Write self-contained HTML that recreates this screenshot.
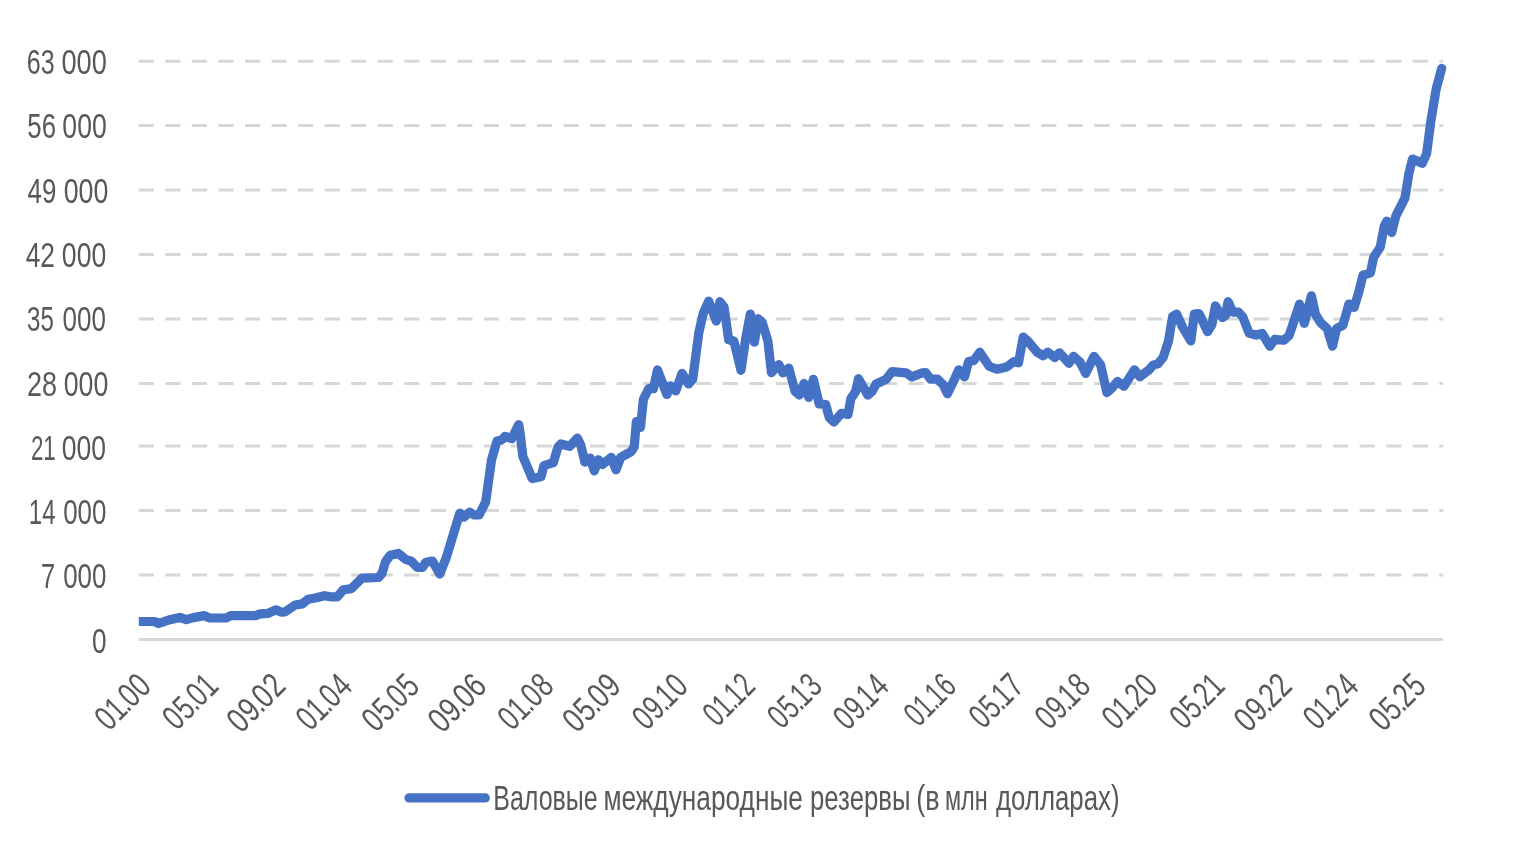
<!DOCTYPE html>
<html lang="ru">
<head>
<meta charset="utf-8">
<title>Валовые международные резервы</title>
<style>
html,body{margin:0;padding:0;background:#fff;}
svg{display:block;}
text{font-family:"Liberation Sans",sans-serif;fill:#595959;}
</style>
</head>
<body>
<svg width="1515" height="853" viewBox="0 0 1515 853">
<rect x="0" y="0" width="1515" height="853" fill="#ffffff"/>
<filter id="soft" x="0" y="0" width="1515" height="853" filterUnits="userSpaceOnUse"><feGaussianBlur stdDeviation="0.45"/></filter>
<g filter="url(#soft)">
<g stroke="#d7d7d7" stroke-width="3" stroke-dasharray="15.2 11.34" fill="none">
<line x1="138.8" y1="575.00" x2="1443.2" y2="575.00"/>
<line x1="138.8" y1="510.40" x2="1443.2" y2="510.40"/>
<line x1="138.8" y1="446.10" x2="1443.2" y2="446.10"/>
<line x1="138.8" y1="383.50" x2="1443.2" y2="383.50"/>
<line x1="138.8" y1="319.00" x2="1443.2" y2="319.00"/>
<line x1="138.8" y1="254.50" x2="1443.2" y2="254.50"/>
<line x1="138.8" y1="190.00" x2="1443.2" y2="190.00"/>
<line x1="138.8" y1="125.60" x2="1443.2" y2="125.60"/>
<line x1="138.8" y1="61.30" x2="1443.2" y2="61.30"/>
</g>
<line x1="138.8" y1="639.50" x2="1443.2" y2="639.50" stroke="#d7d7d7" stroke-width="3.2"/>
<g font-size="35.0">
<text y="652.60"><tspan x="91.98" textLength="14.54" lengthAdjust="spacingAndGlyphs">0</tspan></text>
<text y="588.33"><tspan x="40.89" textLength="14.19" lengthAdjust="spacingAndGlyphs">7</tspan> <tspan x="63.19" textLength="43.22" lengthAdjust="spacingAndGlyphs">000</tspan></text>
<text y="524.06"><tspan x="28.77" textLength="26.74" lengthAdjust="spacingAndGlyphs">14</tspan> <tspan x="63.19" textLength="43.22" lengthAdjust="spacingAndGlyphs">000</tspan></text>
<text y="459.79"><tspan x="30.88" textLength="24.81" lengthAdjust="spacingAndGlyphs">21</tspan> <tspan x="61.86" textLength="44.27" lengthAdjust="spacingAndGlyphs">000</tspan></text>
<text y="395.52"><tspan x="27.04" textLength="30.03" lengthAdjust="spacingAndGlyphs">28</tspan> <tspan x="63.66" textLength="44.59" lengthAdjust="spacingAndGlyphs">000</tspan></text>
<text y="331.25"><tspan x="27.08" textLength="26.83" lengthAdjust="spacingAndGlyphs">35</tspan> <tspan x="62.58" textLength="43.43" lengthAdjust="spacingAndGlyphs">000</tspan></text>
<text y="266.98"><tspan x="25.69" textLength="29.33" lengthAdjust="spacingAndGlyphs">42</tspan> <tspan x="61.86" textLength="44.38" lengthAdjust="spacingAndGlyphs">000</tspan></text>
<text y="202.71"><tspan x="27.61" textLength="28.82" lengthAdjust="spacingAndGlyphs">49</tspan> <tspan x="63.66" textLength="44.59" lengthAdjust="spacingAndGlyphs">000</tspan></text>
<text y="138.44"><tspan x="27.37" textLength="28.66" lengthAdjust="spacingAndGlyphs">56</tspan> <tspan x="62.36" textLength="44.38" lengthAdjust="spacingAndGlyphs">000</tspan></text>
<text y="74.17"><tspan x="26.73" textLength="27.87" lengthAdjust="spacingAndGlyphs">63</tspan> <tspan x="61.44" textLength="45.32" lengthAdjust="spacingAndGlyphs">000</tspan></text>
</g>
<g font-size="35.0">
<text transform="translate(153.0 688.0) rotate(-45) scale(0.733 1)" x="-84.72 -65.60 -48.18 -40.15 -19.74" y="0">01.00</text>
<text transform="translate(220.1 688.0) rotate(-45) scale(0.724 1)" x="-84.76 -64.33 -46.63 -38.57 -19.41" y="0">05.01</text>
<text transform="translate(287.2 688.0) rotate(-45) scale(0.775 1)" x="-84.21 -64.27 -46.95 -39.08 -19.25" y="0">09.02</text>
<text transform="translate(354.3 688.0) rotate(-45) scale(0.726 1)" x="-85.76 -66.61 -49.16 -41.10 -20.09" y="0">01.04</text>
<text transform="translate(421.4 688.0) rotate(-45) scale(0.750 1)" x="-85.75 -65.45 -47.85 -39.89 -19.60" y="0">05.05</text>
<text transform="translate(488.5 688.0) rotate(-45) scale(0.777 1)" x="-84.38 -64.45 -47.13 -39.27 -19.47" y="0">09.06</text>
<text transform="translate(555.6 688.0) rotate(-45) scale(0.731 1)" x="-84.46 -65.33 -47.90 -39.86 -19.59" y="0">01.08</text>
<text transform="translate(622.7 688.0) rotate(-45) scale(0.763 1)" x="-85.07 -64.84 -47.29 -39.37 -19.38" y="0">05.09</text>
<text transform="translate(689.8 688.0) rotate(-45) scale(0.729 1)" x="-84.24 -64.07 -46.58 -39.84 -19.74" y="0">09.10</text>
<text transform="translate(756.9 688.0) rotate(-45) scale(0.672 1)" x="-83.62 -64.17 -46.49 -39.50 -19.49" y="0">01.12</text>
<text transform="translate(824.0 688.0) rotate(-45) scale(0.704 1)" x="-85.05 -64.52 -46.74 -39.89 -19.63" y="0">05.13</text>
<text transform="translate(891.1 688.0) rotate(-45) scale(0.722 1)" x="-85.28 -65.08 -47.56 -40.79 -20.10" y="0">09.14</text>
<text transform="translate(958.2 688.0) rotate(-45) scale(0.675 1)" x="-83.77 -64.33 -46.66 -39.69 -19.71" y="0">01.16</text>
<text transform="translate(1025.3 688.0) rotate(-45) scale(0.705 1)" x="-84.34 -63.82 -46.04 -39.20 -19.41" y="0">05.17</text>
<text transform="translate(1092.4 688.0) rotate(-45) scale(0.726 1)" x="-83.98 -63.81 -46.30 -39.55 -19.60" y="0">09.18</text>
<text transform="translate(1159.5 688.0) rotate(-45) scale(0.727 1)" x="-84.06 -64.91 -47.46 -39.80 -19.75" y="0">01.20</text>
<text transform="translate(1226.6 688.0) rotate(-45) scale(0.718 1)" x="-84.10 -63.65 -45.92 -38.23 -19.43" y="0">05.21</text>
<text transform="translate(1293.7 688.0) rotate(-45) scale(0.769 1)" x="-83.53 -63.56 -46.22 -38.72 -19.27" y="0">09.22</text>
<text transform="translate(1360.8 688.0) rotate(-45) scale(0.720 1)" x="-85.10 -65.92 -48.44 -40.76 -20.11" y="0">01.24</text>
<text transform="translate(1427.9 688.0) rotate(-45) scale(0.744 1)" x="-85.08 -64.75 -47.13 -39.54 -19.61" y="0">05.25</text>
</g>
<defs><clipPath id="plotclip"><rect x="138.8" y="0" width="1320" height="700"/></clipPath></defs>
<polyline clip-path="url(#plotclip)" fill="none" stroke="#4472c4" stroke-width="9.2" stroke-linejoin="round" stroke-linecap="round" points="139.4,621.5 154.6,621.5 158.7,623.5 169.9,619.7 179.8,617.4 186.3,619.7 193.3,617.6 204.4,615.6 209.7,618 226.1,618 230.8,615.6 255.4,615.6 260.1,613.9 268.3,613.3 276,609.8 281.2,612.1 285.3,611.8 295.2,605 302.3,603.9 308.1,599.2 315.2,598 324.5,595.7 330.4,596.8 337.4,596.8 343.3,589.8 351.5,588.6 362.1,578.1 378.5,577.5 382,573.4 385.5,561.7 390.2,555.2 398.4,553.4 405.4,559.3 411.3,561.1 417.2,567.5 422.4,567.5 426,562.2 432.4,561.1 439.7,574.1 446.3,557.5 459.8,513.2 464.1,516.9 469.7,512.2 474.4,515 479.1,515 485.7,501.9 491.5,460 497,441 501.7,439.9 505.2,436.3 511.7,438.7 518.7,424.6 520.4,435.2 522.8,456.3 532.2,478.5 541,476.8 543.9,465.7 553.3,462.7 558,446.9 560.9,444 569.7,446.3 577.3,438.1 580.8,445.1 584.9,462.1 590.2,458 594.3,470.9 598.4,459.8 602.5,464.5 611.3,457.4 616,469.8 620.7,457.4 631.2,451.6 634.2,447 636.4,421.5 640.5,427.4 643.4,399.2 648.7,388.7 653.4,388.7 657.5,369.9 666.9,394.5 670.4,385.8 675.7,391 682.1,373.4 688.6,384 692.7,379.3 698.8,332.8 703.4,312.8 708.7,301.1 716.3,321 719.9,301.7 724,307 728.7,339.8 733.9,341 741,370.3 745.7,338.6 750.3,314 754.4,342.1 758,318.7 762.1,322.2 767.9,341 771.4,372.6 778.8,364.6 782.9,372.8 788.8,368.1 795.2,391.6 799.3,395.1 804,383.4 808.7,397.4 813.4,379.3 819.2,403.9 825.7,404.5 829.2,417.4 833.9,422.1 841.5,413.3 848,414.4 850.9,398.6 855.6,391.6 858.5,378.7 867.9,395.1 872,391.6 876.1,384 886.1,379.3 891.9,371.7 906,372.8 911.9,376.9 922.4,372.8 925.9,372.7 930.6,379.2 937.6,379.2 943.4,385 947.5,393.8 954,380.3 958.7,369.8 964.5,376.8 968.6,361.6 973.9,360.4 979.8,352.2 989.2,366.3 996.8,369.2 1006.8,366.9 1013.8,361.6 1018.5,362.8 1023.2,337 1027.9,341.1 1037.2,352.2 1043.1,355.7 1047.8,352.2 1054.8,357.5 1059.5,352.8 1068.9,363.3 1073.6,356.3 1080,362.1 1085.8,373.3 1094,356.3 1100.5,364.5 1106.9,392.6 1111,389.1 1117.5,381.5 1123.9,386.2 1134.5,369.8 1139.8,376.8 1148.5,370.3 1153.2,365.1 1157.9,363.9 1163.2,357.4 1168.5,341 1172.6,316.4 1176.7,314.1 1182.5,327 1190.8,341 1194.3,314.1 1199,313.5 1207.7,331.7 1211.9,324.6 1215.4,305.9 1222.4,317.6 1225.5,315.5 1228.1,301.7 1232.8,312.2 1238.7,312.2 1242.8,316.9 1249.2,333.3 1256.3,335.1 1262.1,333.3 1269.8,346.2 1275,339.2 1283.8,340.3 1289.1,335.6 1299.6,304 1304.3,323.3 1311.4,295.8 1315.5,314.5 1320.7,322.8 1327.2,328.6 1332.5,346.2 1336.6,328.6 1343,325.1 1348.9,304 1354.1,307.5 1358.9,291.7 1363,275.2 1370.4,272.8 1373.7,257.2 1380.2,247.3 1384.3,226 1386.8,221 1391.7,232.5 1395.8,216.1 1404.9,198.1 1409,173 1412.5,159 1422.2,163.4 1426.6,153.7 1431,120.3 1436.2,88.7 1441.7,68.4"/>
<line x1="409" y1="797.9" x2="485.3" y2="797.9" stroke="#4472c4" stroke-width="9.2" stroke-linecap="round"/>
<text y="809.8" font-size="35.0"><tspan x="493.24" textLength="104.47" lengthAdjust="spacingAndGlyphs">Валовые</tspan> <tspan x="603.39" textLength="199.58" lengthAdjust="spacingAndGlyphs">международные</tspan> <tspan x="810.05" textLength="100.42" lengthAdjust="spacingAndGlyphs">резервы</tspan> <tspan x="916.33" textLength="23.24" lengthAdjust="spacingAndGlyphs">(в</tspan> <tspan x="944.97" textLength="42.75" lengthAdjust="spacingAndGlyphs">млн</tspan> <tspan x="995.95" textLength="123.65" lengthAdjust="spacingAndGlyphs">долларах)</tspan></text>
</g>
</svg>
</body>
</html>
